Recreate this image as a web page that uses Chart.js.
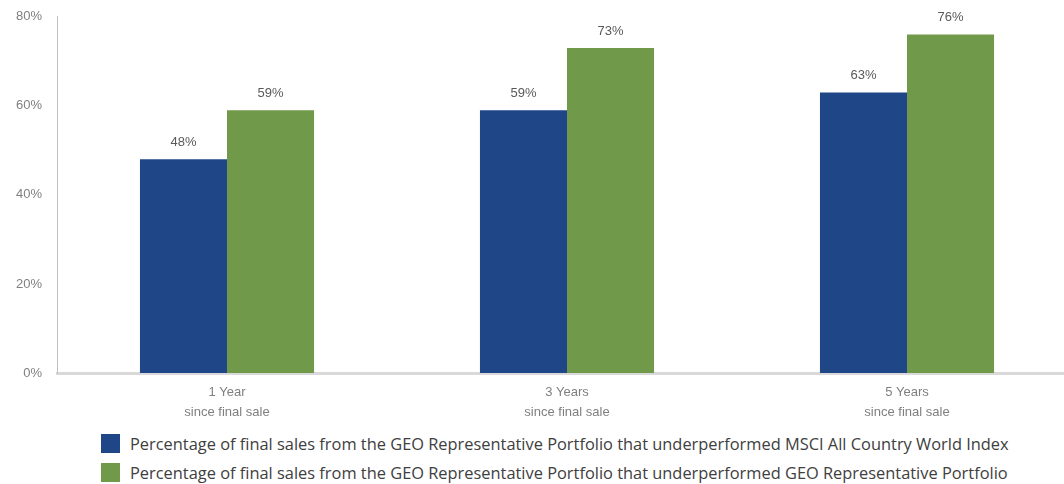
<!DOCTYPE html>
<html>
<head>
<meta charset="utf-8">
<script src="https://cdn.jsdelivr.net/npm/chart.js@4/dist/chart.umd.min.js"></script>
<style>
  html, body { margin: 0; padding: 0; background: #fff; overflow: hidden; }
  #wrap { position: relative; width: 1064px; height: 484px; overflow: hidden; }
  #c { position: absolute; left: 0; top: -6px; }
  #legend { position: absolute; left: 101px; top: 434px; font-family: "Open Sans", sans-serif; font-size: 16.4px; color: #404040; }
  .item { display: flex; align-items: center; height: 19px; margin-bottom: 10px; white-space: nowrap; }
  .box { width: 19px; height: 19px; margin-right: 10px; }
</style>
</head>
<body>
<div id="wrap">
  <canvas id="c" width="1080" height="436"></canvas>
  <div id="legend"></div>
</div>
<script>
// --- datos ---
const categories = [['1 Year', 'since final sale'], ['3 Years', 'since final sale'], ['5 Years', 'since final sale']];
const msciValues = [48, 59, 63];
const geoValues = [59, 73, 76];
const yTicks = [0, 20, 40, 60, 80];
const seriesNames = [
  'Percentage of final sales from the GEO Representative Portfolio that underperformed MSCI All Country World Index',
  'Percentage of final sales from the GEO Representative Portfolio that underperformed GEO Representative Portfolio'
];
const seriesColors = ['#1F4788', '#70994A'];

// etiquetas encima de cada barra
const barLabels = {
  id: 'barLabels',
  afterDatasetsDraw(chart) {
    const ctx = chart.ctx;
    ctx.save();
    ctx.font = '13px "Liberation Sans", Arial, sans-serif';
    ctx.fillStyle = '#595959';
    ctx.textAlign = 'center';
    ctx.textBaseline = 'middle';
    chart.data.datasets.forEach((ds, i) => {
      chart.getDatasetMeta(i).data.forEach((bar, j) => {
        ctx.fillText(ds.data[j] + '%', bar.x, bar.y - 17);
      });
    });
    ctx.restore();
  }
};

const chart = new Chart(document.getElementById('c'), {
  type: 'bar',
  data: {
    labels: categories,
    datasets: [
      { label: seriesNames[0], data: msciValues, backgroundColor: seriesColors[0] },
      { label: seriesNames[1], data: geoValues, backgroundColor: seriesColors[1] }
    ]
  },
  options: {
    responsive: false,
    animation: false,
    layout: { padding: { top: 9, right: 3, left: 0, bottom: 0 } },
    datasets: { bar: { categoryPercentage: 0.512, barPercentage: 1.0 } },
    plugins: { legend: { display: false }, tooltip: { enabled: false } },
    scales: {
      x: {
        grid: { display: false },
        border: { color: '#d9d9d9', width: 3 },
        ticks: {
          color: '#7f7f7f',
          padding: 2,
          font: { family: '"Liberation Sans", Arial, sans-serif', size: 13, lineHeight: 1.5 }
        },
        afterFit(scale) { scale.height = 436 - 379; }
      },
      y: {
        min: 0,
        max: 80,
        afterBuildTicks(scale) { scale.ticks = yTicks.map(v => ({ value: v })); },
        grid: { display: false, drawTicks: false },
        border: { color: '#bfbfbf', width: 1 },
        ticks: {
          color: '#7f7f7f',
          padding: 15,
          font: { family: '"Liberation Sans", Arial, sans-serif', size: 13 },
          callback: v => v + '%'
        },
        afterFit(scale) { scale.width = 57; }
      }
    }
  },
  plugins: [barLabels]
});

// leyenda en HTML a partir de los datasets
const legend = document.getElementById('legend');
chart.data.datasets.forEach(ds => {
  const row = document.createElement('div');
  row.className = 'item';
  row.innerHTML = '<span class="box" style="background:' + ds.backgroundColor + '"></span><span>' + ds.label + '</span>';
  legend.appendChild(row);
});
</script>
</body>
</html>
